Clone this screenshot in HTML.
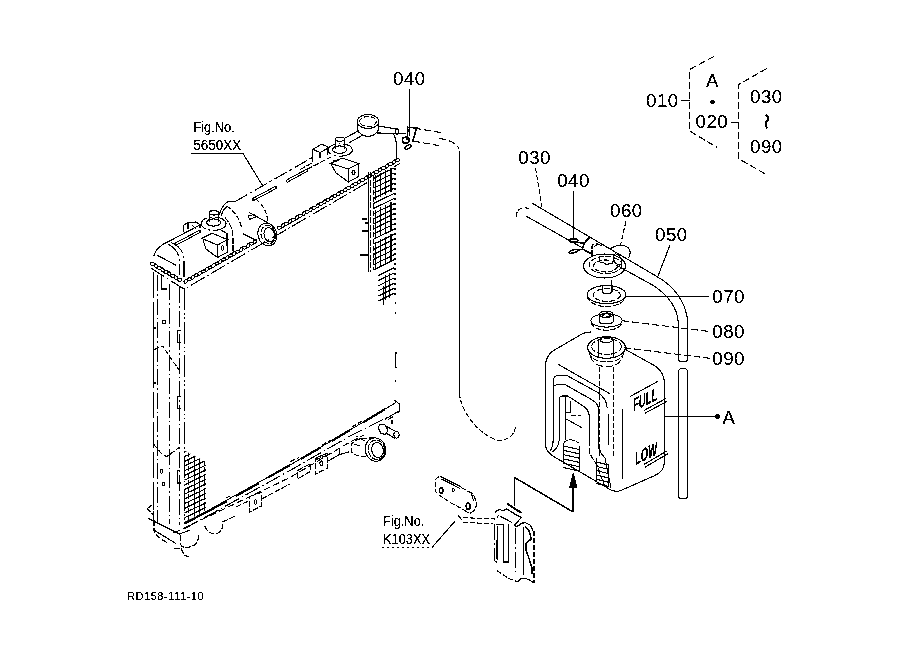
<!DOCTYPE html>
<html><head><meta charset="utf-8">
<style>
html,body{margin:0;padding:0;background:#fff;}
body{width:919px;height:667px;overflow:hidden;}
svg{display:block;filter:grayscale(1);}
text{font-family:"Liberation Sans",sans-serif;fill:#000;}
.l{font-size:18.6px;letter-spacing:0.55px;}
.s{font-size:15px;}
.d1{stroke-dasharray:7 3;}
.d2{stroke-dasharray:5 2;}
.d3{stroke-dasharray:2 3;}
.d4{stroke-dasharray:6 1.5;}
.d5{stroke-dasharray:5 2;}
.dd{stroke-dasharray:16 3 1.5 3;}
.ph{stroke-dasharray:22 3 1.5 2.5 1.5 3;}
.lg{stroke-dasharray:26 4;}
.d6{stroke-dasharray:14 3 3 3;}
</style></head><body>
<svg width="919" height="667" viewBox="0 0 919 667">
<defs><filter id="bin" color-interpolation-filters="sRGB"><feComponentTransfer><feFuncA type="discrete" tableValues="0 0 1 1 1"/></feComponentTransfer></filter><clipPath id="blm"><path d="M184.4 450.5L206 462V510L184.4 522.5Z"/></clipPath></defs>
<g fill="none" stroke="#000" stroke-width="1.1" shape-rendering="crispEdges">
<path d="M409.5 89.4V136" stroke-width="1"/>
<path d="M191 153.5H243L262.5 185.5"/>
<path d="M681 100.5H689.5M731.2 122.5H738.5" stroke-width="1"/>
<path d="M714 56.4L689.5 69.5V130.9L717 147.4" class="d1"/>
<path d="M766.7 68.5L738.5 84.7V158.7L766.7 174.7" class="d1"/>
<path d="M535.5 168.1L542.3 208.6" class="d2"/>
<path d="M573.5 190.6V239" stroke-width="1"/>
<path d="M626 221L620.4 245.7" class="d2"/>
<path d="M669.9 245.3L657.5 277.2"/>
<path d="M625.2 296.5H708.5" stroke-width="1"/>
<path d="M621.9 320.7L709.6 331.5" class="d1"/>
<path d="M624.1 347.7L709.6 358.3" class="d1"/>
<path d="M664.5 416.5H715.7" stroke-width="1"/>
<path d="M382.4 547.6H431.9" class="d3"/>
<path d="M431.9 547.6L455.5 520.6"/>
<path d="M765.5 114.8L767.6 116.6V120.2L765.8 122.4V126.2L767.4 128.4" stroke-width="1.8"/>
<path d="M153.7 272V523" class="lg"/>
<path d="M157.4 275V523" class="dd"/>
<path d="M169.7 284V524" class="dd"/>
<path d="M179.6 287V525" class="dd"/>
<path d="M184.5 288V523" class="ph"/>
<path d="M161.5 274V289H166.5"/>
<path d="M153.8 256.2C155 250 160 245 169.3 241.1L200 225"/>
<path d="M234.8 201.8L313 157.1" class="d6"/>
<path d="M168.4 244.5C174 247 178 252 179.1 258.1V275" class="dd"/>
<path d="M171.3 242.5C177 245 183 250 184 258.1V278" class="dd"/>
<path d="M157.2 255.2L176.2 265.4"/>
<path d="M175.5 244.2L199.5 231.5" stroke-width="3.2" stroke-linecap="round"/>
<path d="M175.5 244.2L199.5 231.5" stroke-width="1.2" stroke="#fff"/>
<path d="M253.5 199.3L275.5 187.6" stroke-width="3.2" stroke-linecap="round"/>
<path d="M253.5 199.3L275.5 187.6" stroke-width="1.2" stroke="#fff"/>
<path d="M287.2 181L306.9 170.2" stroke-width="3.2" stroke-linecap="round"/>
<path d="M287.2 181L306.9 170.2" stroke-width="1.2" stroke="#fff"/>
<ellipse cx="152.5" cy="264.0" rx="2.1" ry="1.5" transform="rotate(10.3 152.5 264.0)"/>
<ellipse cx="155.9" cy="266.0" rx="2.1" ry="1.5" transform="rotate(50.3 155.9 266.0)"/>
<ellipse cx="159.2" cy="267.9" rx="2.1" ry="1.5" transform="rotate(10.3 159.2 267.9)"/>
<ellipse cx="162.6" cy="269.9" rx="2.1" ry="1.5" transform="rotate(50.3 162.6 269.9)"/>
<ellipse cx="166.0" cy="271.9" rx="2.1" ry="1.5" transform="rotate(10.3 166.0 271.9)"/>
<ellipse cx="169.3" cy="273.8" rx="2.1" ry="1.5" transform="rotate(50.3 169.3 273.8)"/>
<ellipse cx="172.7" cy="275.8" rx="2.1" ry="1.5" transform="rotate(10.3 172.7 275.8)"/>
<ellipse cx="176.1" cy="277.8" rx="2.1" ry="1.5" transform="rotate(50.3 176.1 277.8)"/>
<ellipse cx="179.4" cy="279.7" rx="2.1" ry="1.5" transform="rotate(10.3 179.4 279.7)"/>
<ellipse cx="185.7" cy="281.4" rx="2.1" ry="1.5" transform="rotate(-49.8 185.7 281.4)"/>
<ellipse cx="189.2" cy="279.4" rx="2.1" ry="1.5" transform="rotate(-9.8 189.2 279.4)"/>
<ellipse cx="192.7" cy="277.4" rx="2.1" ry="1.5" transform="rotate(-49.8 192.7 277.4)"/>
<ellipse cx="196.1" cy="275.4" rx="2.1" ry="1.5" transform="rotate(-9.8 196.1 275.4)"/>
<ellipse cx="199.6" cy="273.4" rx="2.1" ry="1.5" transform="rotate(-49.8 199.6 273.4)"/>
<ellipse cx="203.1" cy="271.5" rx="2.1" ry="1.5" transform="rotate(-9.8 203.1 271.5)"/>
<ellipse cx="206.6" cy="269.5" rx="2.1" ry="1.5" transform="rotate(-49.8 206.6 269.5)"/>
<ellipse cx="210.0" cy="267.5" rx="2.1" ry="1.5" transform="rotate(-9.8 210.0 267.5)"/>
<ellipse cx="213.5" cy="265.5" rx="2.1" ry="1.5" transform="rotate(-49.8 213.5 265.5)"/>
<ellipse cx="217.0" cy="263.5" rx="2.1" ry="1.5" transform="rotate(-9.8 217.0 263.5)"/>
<ellipse cx="220.4" cy="261.5" rx="2.1" ry="1.5" transform="rotate(-49.8 220.4 261.5)"/>
<ellipse cx="223.9" cy="259.5" rx="2.1" ry="1.5" transform="rotate(-9.8 223.9 259.5)"/>
<ellipse cx="227.4" cy="257.5" rx="2.1" ry="1.5" transform="rotate(-49.8 227.4 257.5)"/>
<ellipse cx="230.8" cy="255.5" rx="2.1" ry="1.5" transform="rotate(-9.8 230.8 255.5)"/>
<ellipse cx="234.3" cy="253.5" rx="2.1" ry="1.5" transform="rotate(-49.8 234.3 253.5)"/>
<ellipse cx="237.8" cy="251.6" rx="2.1" ry="1.5" transform="rotate(-9.8 237.8 251.6)"/>
<ellipse cx="241.2" cy="249.6" rx="2.1" ry="1.5" transform="rotate(-49.8 241.2 249.6)"/>
<ellipse cx="244.7" cy="247.6" rx="2.1" ry="1.5" transform="rotate(-9.8 244.7 247.6)"/>
<ellipse cx="248.2" cy="245.6" rx="2.1" ry="1.5" transform="rotate(-49.8 248.2 245.6)"/>
<ellipse cx="251.7" cy="243.6" rx="2.1" ry="1.5" transform="rotate(-9.8 251.7 243.6)"/>
<ellipse cx="255.1" cy="241.6" rx="2.1" ry="1.5" transform="rotate(-49.8 255.1 241.6)"/>
<ellipse cx="279.4" cy="227.7" rx="2.1" ry="1.5" transform="rotate(-9.8 279.4 227.7)"/>
<ellipse cx="282.9" cy="225.7" rx="2.1" ry="1.5" transform="rotate(-49.8 282.9 225.7)"/>
<ellipse cx="286.4" cy="223.7" rx="2.1" ry="1.5" transform="rotate(-9.8 286.4 223.7)"/>
<ellipse cx="289.8" cy="221.7" rx="2.1" ry="1.5" transform="rotate(-49.8 289.8 221.7)"/>
<ellipse cx="293.3" cy="219.7" rx="2.1" ry="1.5" transform="rotate(-9.8 293.3 219.7)"/>
<ellipse cx="296.8" cy="217.7" rx="2.1" ry="1.5" transform="rotate(-49.8 296.8 217.7)"/>
<ellipse cx="300.2" cy="215.7" rx="2.1" ry="1.5" transform="rotate(-9.8 300.2 215.7)"/>
<ellipse cx="303.7" cy="213.7" rx="2.1" ry="1.5" transform="rotate(-49.8 303.7 213.7)"/>
<ellipse cx="307.2" cy="211.7" rx="2.1" ry="1.5" transform="rotate(-9.8 307.2 211.7)"/>
<ellipse cx="310.6" cy="209.8" rx="2.1" ry="1.5" transform="rotate(-49.8 310.6 209.8)"/>
<ellipse cx="314.1" cy="207.8" rx="2.1" ry="1.5" transform="rotate(-9.8 314.1 207.8)"/>
<ellipse cx="317.6" cy="205.8" rx="2.1" ry="1.5" transform="rotate(-49.8 317.6 205.8)"/>
<ellipse cx="321.1" cy="203.8" rx="2.1" ry="1.5" transform="rotate(-9.8 321.1 203.8)"/>
<ellipse cx="324.5" cy="201.8" rx="2.1" ry="1.5" transform="rotate(-49.8 324.5 201.8)"/>
<ellipse cx="328.0" cy="199.8" rx="2.1" ry="1.5" transform="rotate(-9.8 328.0 199.8)"/>
<ellipse cx="331.5" cy="197.8" rx="2.1" ry="1.5" transform="rotate(-49.8 331.5 197.8)"/>
<ellipse cx="334.9" cy="195.8" rx="2.1" ry="1.5" transform="rotate(-9.8 334.9 195.8)"/>
<ellipse cx="338.4" cy="193.8" rx="2.1" ry="1.5" transform="rotate(-49.8 338.4 193.8)"/>
<ellipse cx="341.9" cy="191.8" rx="2.1" ry="1.5" transform="rotate(-9.8 341.9 191.8)"/>
<ellipse cx="345.3" cy="189.9" rx="2.1" ry="1.5" transform="rotate(-49.8 345.3 189.9)"/>
<ellipse cx="348.8" cy="187.9" rx="2.1" ry="1.5" transform="rotate(-9.8 348.8 187.9)"/>
<ellipse cx="352.3" cy="185.9" rx="2.1" ry="1.5" transform="rotate(-49.8 352.3 185.9)"/>
<ellipse cx="355.7" cy="183.9" rx="2.1" ry="1.5" transform="rotate(-9.8 355.7 183.9)"/>
<ellipse cx="359.2" cy="181.9" rx="2.1" ry="1.5" transform="rotate(-49.8 359.2 181.9)"/>
<ellipse cx="362.7" cy="179.9" rx="2.1" ry="1.5" transform="rotate(-9.8 362.7 179.9)"/>
<ellipse cx="366.2" cy="177.9" rx="2.1" ry="1.5" transform="rotate(-49.8 366.2 177.9)"/>
<ellipse cx="369.6" cy="175.9" rx="2.1" ry="1.5" transform="rotate(-9.8 369.6 175.9)"/>
<ellipse cx="373.1" cy="173.9" rx="2.1" ry="1.5" transform="rotate(-49.8 373.1 173.9)"/>
<ellipse cx="376.6" cy="171.9" rx="2.1" ry="1.5" transform="rotate(-9.8 376.6 171.9)"/>
<ellipse cx="380.0" cy="169.9" rx="2.1" ry="1.5" transform="rotate(-49.8 380.0 169.9)"/>
<ellipse cx="383.5" cy="168.0" rx="2.1" ry="1.5" transform="rotate(-9.8 383.5 168.0)"/>
<ellipse cx="387.0" cy="166.0" rx="2.1" ry="1.5" transform="rotate(-49.8 387.0 166.0)"/>
<ellipse cx="390.4" cy="164.0" rx="2.1" ry="1.5" transform="rotate(-9.8 390.4 164.0)"/>
<ellipse cx="393.9" cy="162.0" rx="2.1" ry="1.5" transform="rotate(-49.8 393.9 162.0)"/>
<ellipse cx="397.4" cy="160.0" rx="2.1" ry="1.5" transform="rotate(-9.8 397.4 160.0)"/>
<path d="M150.8 268L181 287.3L184.5 289L400 163.4" class="dd"/>
<path d="M184.5 289L185 292"/>
<path d="M183.2 231.8V225.5L188 222.5L196 222L200 224.5V228"/>
<path d="M188 222.5V229M192 225L196 229"/>
<ellipse cx="213.6" cy="223.7" rx="12.4" ry="6.7" class="dd"/>
<ellipse cx="213.6" cy="222.5" rx="7" ry="3.6"/>
<path d="M209.6 222V213.2M218.6 222V213.2"/>
<ellipse cx="214.1" cy="212.8" rx="4.5" ry="2.2"/>
<path d="M211 212V209.6M216.6 212V209.6"/>
<path d="M201.7 238.4L217.5 245L227.6 239.6L212 233.2Z"/>
<path d="M217.5 245V257.5L227.6 252V239.6"/>
<path d="M203 240L206 249L217.5 257.5"/>
<ellipse cx="222.6" cy="248" rx="1.4" ry="2.2"/>
<path d="M219 229L227 233.5V246"/>
<path d="M218.9 215.4C221 209 224 204 227.7 201.8L234.5 201.8"/>
<path d="M220.8 216.4C222 212 224 209 226.7 206.7"/>
<path d="M226.7 206.2C233 210 240 218 241.8 229" class="d2"/>
<path d="M224.7 217.4C229 222 233 229 233 236V252.4" class="d4"/>
<path d="M255.9 198.9C262 204 267 211 268 222.3" class="d2"/>
<path d="M249.1 212.5L268.6 223.2M243.2 233.9L256.9 240.8"/>
<path d="M248 216L254 214.5L256 217L249.5 219.3Z"/>
<ellipse cx="267.3" cy="234.5" rx="9.4" ry="11.5" transform="rotate(-15 267.3 234.5)"/>
<ellipse cx="268.3" cy="234.5" rx="7.2" ry="9.2" class="d4" transform="rotate(-15 268.3 234.5)"/>
<ellipse cx="269.3" cy="234.8" rx="5.2" ry="7.2" transform="rotate(-15 269.3 234.8)"/>
<ellipse cx="340.2" cy="150" rx="12.1" ry="6.2" class="dd"/>
<ellipse cx="339.6" cy="149.6" rx="7" ry="3.7"/>
<path d="M335.4 148.5V139.5M344.4 148.5V139.5"/>
<ellipse cx="339.9" cy="139.2" rx="4.5" ry="2"/>
<path d="M330.4 163.4L348.4 169L358.5 163.5L342 158Z"/>
<path d="M348.4 169V182L358.5 176.5V163.5"/>
<path d="M331 164L336 173L348.4 182"/>
<path d="M333 161.5L339 160" stroke-width="2"/>
<ellipse cx="353.5" cy="172.5" rx="1.5" ry="2.4"/>
<path d="M312.9 161.7V149.4L321.4 144.3L327.6 146.6V155"/>
<path d="M312.9 149.4L320 152.5L327.6 148.5M320 152.5V158"/>
<path d="M300 169.6L312.9 162.5M300 173L330.4 157.2" class="d4"/>
<path d="M343.9 138.7L358.5 130.8M348.4 143.2L362.4 135.3"/>
<ellipse cx="368" cy="121.5" rx="10.7" ry="7"/>
<ellipse cx="368" cy="121.5" rx="8.4" ry="5" class="d2"/>
<path d="M357.4 121.5V129.5M378.7 121.5V129.5"/>
<path d="M357.4 129.5C359 134 364 136.4 368 136.4C372 136.4 377 134 378.7 129.5"/>
<path d="M378.5 125.9L398.6 129.5M377 133L405.8 133.5"/>
<ellipse cx="396.8" cy="131.5" rx="1.6" ry="3"/>
<path d="M406.7 127.2L416.6 128L412.6 142M408 128.5L407 140" stroke-width="1.6"/>
<ellipse cx="405.8" cy="140.2" rx="3.5" ry="3" stroke-width="1.6"/>
<ellipse cx="408" cy="147" rx="3.5" ry="1.6" transform="rotate(-35 408 147)" stroke-width="1.6"/>
<path d="M413.9 128.1L440.9 132.6" class="d1"/>
<path d="M413 141.1L439.1 145.6" class="d1"/>
<path d="M439.1 138.4C450 140 458 144 458.9 149.2" class="d1"/>
<path d="M459.4 151V392.8"/>
<path d="M459.4 392.8C460.5 410 477 434 497.6 440.2C506 441 515 436 515.6 425.8" class="d5"/>
<path d="M393 133C395.5 137 396.4 141 396.4 146V160"/>
<path d="M395 168V298" class="d3"/>
<path d="M395.3 302V303.5M395.3 312V313.5M395.3 380V381.5" stroke-width="1.3"/>
<path d="M397 353H395.3V367.5H397" stroke-width="1.3"/>
<path d="M373.5 178.0L394 168.0" stroke-width="1.2"/>
<path d="M373.5 183.1L394 173.1" stroke-width="1.2"/>
<path d="M373.5 188.2L394 178.2" stroke-width="1.2"/>
<path d="M373.5 193.3L394 183.3" stroke-width="1.2"/>
<path d="M373.5 198.4L394 188.4" stroke-width="1.2"/>
<path d="M373.5 203.5L394 193.5" stroke-width="1.2"/>
<path d="M373.5 208.6L394 198.6" stroke-width="1.2"/>
<path d="M373.5 213.7L394 203.7" stroke-width="1.2"/>
<path d="M373.5 218.8L394 208.8" stroke-width="1.2"/>
<path d="M373.5 223.9L394 213.9" stroke-width="1.2"/>
<path d="M373.5 229.0L394 219.0" stroke-width="1.2"/>
<path d="M373.5 234.1L394 224.1" stroke-width="1.2"/>
<path d="M373.5 239.2L394 229.2" stroke-width="1.2"/>
<path d="M373.5 244.3L394 234.3" stroke-width="1.2"/>
<path d="M373.5 249.4L394 239.4" stroke-width="1.2"/>
<path d="M373.5 254.5L394 244.5" stroke-width="1.2"/>
<path d="M373.5 259.6L394 249.6" stroke-width="1.2"/>
<path d="M373.5 264.7L394 254.7" stroke-width="1.2"/>
<path d="M373.5 269.8L394 259.8" stroke-width="1.2"/>
<path d="M378.5 275.5L394 267.9" stroke-width="1.2"/>
<path d="M378.5 280.6L394 273.0" stroke-width="1.2"/>
<path d="M378.5 285.7L394 278.1" stroke-width="1.2"/>
<path d="M378.5 290.8L394 283.2" stroke-width="1.2"/>
<path d="M378.5 295.9L394 288.3" stroke-width="1.2"/>
<path d="M378.5 301.0L394 293.4" stroke-width="1.2"/>
<path d="M375.8 175.4V199.9"/>
<path d="M380.8 172.9V197.4"/>
<path d="M385.9 170.4V194.9"/>
<path d="M391 167.9V192.4"/>
<path d="M375.8 209.9V238.9"/>
<path d="M380.8 207.4V236.4"/>
<path d="M385.9 204.9V233.9"/>
<path d="M391 202.4V231.4"/>
<path d="M375.8 241.9V269.9"/>
<path d="M380.8 239.4V267.4"/>
<path d="M385.9 236.9V264.9"/>
<path d="M391 234.4V262.4"/>
<path d="M385.6 275.1V300.1"/>
<path d="M389.8 273.0V298.0"/>
<path d="M383.2 286V305"/>
<path d="M368.3 172V272"/>
<path d="M370.4 172V272" class="d4"/>
<path d="M373.5 176V270" class="d2"/>
<path d="M362.3 219H366.5M365 223H368M362 231H368M360 255H368"/>
<g clip-path="url(#blm)">
<path d="M184.4 452.0L206 441.6" stroke-width="1.2"/>
<path d="M184.4 456.7L206 446.3" stroke-width="1.2"/>
<path d="M184.4 461.4L206 451.0" stroke-width="1.2"/>
<path d="M184.4 466.1L206 455.7" stroke-width="1.2"/>
<path d="M184.4 470.8L206 460.4" stroke-width="1.2"/>
<path d="M184.4 475.5L206 465.1" stroke-width="1.2"/>
<path d="M184.4 480.2L206 469.8" stroke-width="1.2"/>
<path d="M184.4 484.9L206 474.5" stroke-width="1.2"/>
<path d="M184.4 489.6L206 479.2" stroke-width="1.2"/>
<path d="M184.4 494.3L206 483.9" stroke-width="1.2"/>
<path d="M184.4 499.0L206 488.6" stroke-width="1.2"/>
<path d="M184.4 503.7L206 493.3" stroke-width="1.2"/>
<path d="M184.4 508.4L206 498.0" stroke-width="1.2"/>
<path d="M184.4 513.1L206 502.7" stroke-width="1.2"/>
<path d="M184.4 517.8L206 507.4" stroke-width="1.2"/>
<path d="M184.4 522.5L206 512.1" stroke-width="1.2"/>
<path d="M184.4 527.2L206 516.8" stroke-width="1.2"/>
<path d="M194.5 455V520"/>
<path d="M199.3 455V520"/>
<path d="M188.5 452V524" class="d2"/>
<path d="M204.3 460V515" class="d2"/>
</g>
<path d="M184.4 523.6L290 465L350 430L396 402.5" stroke-width="1"/>
<path d="M184.4 523.6L227 501.2M236 496L258.5 483.4M267.5 477.8L290 465M300.4 459.2L320.4 447.6M332 440.8L350 430M364 421.8L385 409.2" stroke-width="2.2"/>
<path d="M226 498L231 495.5M290.5 461.5L299 457.5M322 445L331 440M352 427L362 421" class="d2"/>
<path d="M184 529L290 470.5L350 436L399.5 411.4" class="dd"/>
<path d="M173.6 533L290 477.5L350 442L364 435" class="d1"/>
<path d="M297.8 470.4L310.4 463.6V471.4L297.8 478.8Z" class="d4"/>
<path d="M315.1 459.9L327.5 455.2V468.3L315.1 474.1Z" class="d4"/>
<path d="M315.1 459.9L317 457.5L327.5 453.2V455.2"/>
<ellipse cx="321.4" cy="463.2" rx="1.5" ry="2.2"/>
<path d="M328.3 461L339.3 454.6V448.3M339.3 454.6L348.7 452"/>
<path d="M249.5 496.5L261.5 492.5V506L249.5 512Z" class="d4"/>
<ellipse cx="255.5" cy="502" rx="1.4" ry="2.2"/>
<path d="M236 507L249.5 500.5M261.5 499L290 484" class="d4"/>
<path d="M222.7 522L236 515.5" class="d4"/>
<ellipse cx="375.5" cy="449.6" rx="10.2" ry="11.8" transform="rotate(-12 375.5 449.6)"/>
<ellipse cx="376.5" cy="449.8" rx="8.2" ry="9.8" class="d4" transform="rotate(-12 376.5 449.8)"/>
<ellipse cx="377.5" cy="450" rx="5.8" ry="7.6" transform="rotate(-12 377.5 450)"/>
<path d="M373.7 437.7L362 438.5C356 439.5 352 442 351.2 445V451.2C352 453 354 454.5 356 455L366 457" class="d2"/>
<path d="M365 441L356 436M360 446L351 443" class="d4"/>
<path d="M380 424L378.2 428L381 433.5L385.5 434.5L388 430L385 425Z"/>
<path d="M385.5 426L397 432M386 433L395 438.5"/>
<ellipse cx="396.5" cy="434.8" rx="2.6" ry="3.3"/>
<path d="M388 419.5L392 417V424" class="d4"/>
<path d="M393.9 400L399.6 404V410.7L385 419.2"/>
<path d="M147.2 508.8L153.2 504V514.8Z" class="d4"/>
<path d="M148.4 518.4L179.6 534L190 530"/>
<path d="M154.4 530.4L176 543.5"/>
<path d="M154 520V531C156 536 162 540 168 543" class="d4"/>
<path d="M180.8 535.2V545C182 548 190 549 196.4 543.5C198 540 199 537 199 534" class="d4"/>
<path d="M173.6 548.3H181C183 552 183 556 189 556.7" class="d4"/>
<path d="M204.7 525.6C206 531 211 535 218 533.2C222 530 224 527 222 522" class="d4"/>
<ellipse cx="164" cy="322" rx="1.5" ry="1.9"/>
<path d="M180.5 330.4H177.4V342.4H180.5M180.5 396.3H177.4V408.3H180.5" stroke-width="1.2"/>
<path d="M155.5 328H153.7V383H155.5" stroke-width="1.2"/>
<path d="M154.4 349.5L162.8 346L179.6 371.1" class="d2"/>
<ellipse cx="161.5" cy="471.4" rx="1.4" ry="1.9"/>
<ellipse cx="163.6" cy="484" rx="1.4" ry="1.9"/>
<path d="M180 470.3H177.6V483H180.5" stroke-width="1.3"/>
<path d="M153.5 444L161.5 453.6L166.7 456.7L179.3 447.3" class="d4"/>
<path d="M532.4 203.3L656.7 276.4C672 285 686 300 687.8 322V359"/>
<path d="M526.1 216.1L583.4 248.4"/>
<path d="M516.3 217C516 211 520 207.5 524.6 207.7C527 207.7 529.5 209 531 210.7" class="d2"/>
<ellipse cx="573.6" cy="240.2" rx="4.4" ry="1.3" stroke-width="1.5"/>
<path d="M569.6 242L584.3 243L590.2 236.6" stroke-width="1.6"/>
<path d="M584.3 243L582.4 248.9L591.2 253.8" stroke-width="1.6"/>
<ellipse cx="573.6" cy="251.3" rx="4.6" ry="1.5" transform="rotate(-15 573.6 251.3)" stroke-width="1.6"/>
<path d="M578 250.5L582.4 248.9"/>
<ellipse cx="604.5" cy="266" rx="21" ry="12"/>
<ellipse cx="605.5" cy="265" rx="16.5" ry="8.5" class="d4"/>
<ellipse cx="605.5" cy="266" rx="12" ry="6" class="d2"/>
<path d="M609.6 248.9C613 247 617 245.3 620.4 245.3C625 245.3 629 247 630 251C630.5 254 629.5 256 628.5 257.9"/>
<path d="M592 256V246C593 243 597 243 600 245" class="d4"/>
<path d="M594 247C596 244 599 244 602 246"/>
<path d="M599 256L600 262L604 263L607 265L610 263L612 264L614 260"/>
<path d="M611.4 279.5V290"/>
<path d="M602.4 285V292C603.5 294.5 610 294.5 612 292V285"/>
<path d="M616.2 265L654 285.9C666 294 677 305 678.2 322V359"/>
<ellipse cx="617.5" cy="259.5" rx="3.5" ry="6" transform="rotate(-30 617.5 259.5)"/>
<path d="M678.2 359C678.5 363 687.5 363 687.8 359"/>
<path d="M678.2 372V496C678.5 500 687.5 500 687.8 496V372"/>
<path d="M678.2 372C678.5 367 687.5 367 687.8 372"/>
<ellipse cx="606.5" cy="294.6" rx="19.4" ry="9"/>
<path d="M587.1 296C588 302 596 306.5 606.5 306.5C617 306.5 625 302 626 296" class="d4"/>
<ellipse cx="606.9" cy="295" rx="13.4" ry="6.4" class="d4"/>
<ellipse cx="606.5" cy="320.5" rx="15.6" ry="6.7"/>
<path d="M590.9 322C592 327 598 330.2 606.5 330.2C615 330.2 621 327 622.2 322" class="d4"/>
<ellipse cx="606.2" cy="314.3" rx="7" ry="3.2"/>
<ellipse cx="606.2" cy="314.6" rx="4.2" ry="1.7" class="d2"/>
<path d="M599.2 314.3V322M613.2 314.3V322"/>
<path d="M599.2 322C601 324.5 611 324.5 613.2 322"/>
<ellipse cx="606.5" cy="347.5" rx="18.8" ry="10.8"/>
<ellipse cx="606.5" cy="346.5" rx="15" ry="8" class="d4"/>
<ellipse cx="606.2" cy="339.8" rx="6.2" ry="2.6"/>
<path d="M598.6 340V357M613.9 340V357"/>
<path d="M589 352C590 359 597 361.5 606.5 361.5C616 361.5 623 359 624 352" class="d4"/>
<path d="M590.5 356C592 363 598 366.6 606.5 366.6C615 366.6 621 363 622.5 356" class="d1"/>
<path d="M545.5 444V366C545.5 358 549 352 558.6 347.6L583 333.4C585 332.5 588 332 591 332"/>
<path d="M624.8 349.1L654.7 365.7C661 370 664 375 664.5 382V460"/>
<path d="M664.5 460C664.5 470 660 473 654.7 475.6L622 490C619 491.5 614 491.5 610.6 489.8L554 456.7C548.5 453 545.5 450 545.5 444"/>
<path d="M545.5 444V366"/>
<path d="M558 364.2L609.6 393.6"/>
<path d="M553.2 440V381.6C553.5 377 555 375.6 558 375.6H567L597.6 392.4C603 396 607 402 607.2 408"/>
<path d="M553.2 387.6C554 385 557 384.6 559.2 384.6H565.2L591.6 399.6C596 402 598.8 406 598.8 410.4V440"/>
<path d="M559.2 440V398.4C559.5 396.5 561 396 562.8 396H567.6L580.8 404.4C585 407 589 411 589.2 415.2V440"/>
<path d="M565.2 397.2V440"/>
<path d="M565.8 412.8H570.6V400.8"/>
<path d="M570.6 415.2H580.8" class="d2"/>
<path d="M565.8 418.8L582 427.8"/>
<path d="M553.2 440C553 446 552 449 549.5 451.5M559.2 440C558.5 446 556 450 552 452"/>
<path d="M589.2 440V450C590 456 594 460 597 465L605 487" class="d4"/>
<path d="M598.8 440V448C600 452 602 455 605 458L611 488"/>
<path d="M599.3 367.2V456M613.7 367.2V456" class="d2"/>
<path d="M608.4 414V445M622.4 409.4V478.7"/>
<path d="M563.3 446.0L579.1 449.5"/>
<path d="M563.3 450.3L579.1 453.8"/>
<path d="M563.3 454.6L579.1 458.1"/>
<path d="M563.3 458.9L579.1 462.4"/>
<path d="M563.3 463.2L579.1 466.7"/>
<path d="M563.3 467.5L579.1 471.0"/>
<path d="M563.3 444V462M579.1 446V471"/>
<path d="M563.3 444C565 440 570 438.5 575 441L579.1 443" class="d4"/>
<path d="M596.4 462.0L608.2 465.0"/>
<path d="M596.4 466.3L608.2 469.3"/>
<path d="M596.4 470.6L608.2 473.6"/>
<path d="M596.4 474.9L608.2 477.9"/>
<path d="M596.4 479.2L608.2 482.2"/>
<path d="M596.4 483.5L608.2 486.5"/>
<path d="M596.4 458.3V481M608.2 464V487.4"/>
<path d="M630.3 396.4L657.8 381.4"/>
<path d="M643.7 410.6L665.7 398.7M645 413.2L667 401.3"/>
<path d="M643.7 464.6L666.5 451.2M645 467.2L667.8 453.8"/>
<path d="M514.4 477.4L572.7 511.7" stroke-width="1.5"/>
<path d="M573.2 511.7V486" stroke-width="2.2"/>
<path d="M573.3 473.1L569.7 487.5H576.9Z" fill="#000"/>
<path d="M440.5 476.5L460.8 486.5M441.5 479L460 488.5" stroke-width="1.2"/>
<path d="M460.8 487.3L470.9 492.7C474 495 475.6 498 476.3 504.1C476.3 508 474 511.5 470.9 512.9C468.5 513.5 467 512.5 466.8 511.6" class="d4"/>
<path d="M466.8 511.6L456 505.5L450.6 502.8L438.5 494.7C436 492.5 435.1 490.5 435.1 489.3V481.2C435.5 478.5 438 476.5 440.5 476.5" class="d2"/>
<path d="M471.6 494L473.6 501.4"/>
<ellipse cx="441.2" cy="490.6" rx="1.8" ry="2.8" stroke-width="1.5"/>
<ellipse cx="453.3" cy="490" rx="1.3" ry="1.3"/>
<ellipse cx="468.2" cy="506.2" rx="2" ry="3.2" stroke-width="1.5"/>
<path d="M462.8 517.6L495.2 519M462.8 522.4L492.5 523.7" class="d2"/>
<path d="M458 515L462 520"/>
<path d="M514.4 477.4V505.8" stroke-width="1.5"/>
<path d="M507.2 503.7L521.6 513" stroke-width="2"/>
<path d="M506.3 508.8L517.7 515.7L521.3 517.5L516.2 523.2L514.4 525.6L516.8 526.8L521.6 523.2L525.2 522.6L530 525L533 530.4" stroke-width="1.3"/>
<path d="M495.2 512.5C496 510.5 498 509.7 500 509.7L503.6 510.9L506.3 508.8"/>
<path d="M496.7 518.4L498.8 514.8M500 516L512 522.6" stroke-width="1.2"/>
<path d="M494.1 524V559.7C495 561 496 562 497 562.4" class="dd"/>
<path d="M496.9 540V559" stroke-width="1.4"/>
<path d="M496.4 524.4H503.3V562H508.7V524.4"/>
<path d="M497.3 526V560" class="dd"/>
<path d="M508.4 526V562"/>
<path d="M515.4 528V574" class="dd"/>
<path d="M523.4 526.5V575"/>
<path d="M525.2 526.8C528 528 530 531 531.2 539L525.8 543.5V549.8L528.5 557L532 567.8V574" stroke-width="1.5"/>
<path d="M534 531V582.2" class="d2"/>
<path d="M497 570.5L508.7 578.6L517.7 581.7" class="d2"/>
<path d="M517.7 581.7L520.4 579L524 578L528.5 579.5L533 582.2H534.8"/>
</g>
<g filter="url(#bin)">
<circle cx="712.6" cy="102" r="2.2"/>
<circle cx="717.4" cy="416.4" r="2.4"/>
<g class="l">
<text x="393" y="84.7">040</text>
<text x="646" y="106.5">010</text>
<text x="706" y="86.6">A</text>
<text x="695.5" y="128">020</text>
<text x="750" y="102.6">030</text>
<text x="750" y="153.3">090</text>
<text x="518.3" y="164.3">030</text>
<text x="557.2" y="186.6">040</text>
<text x="610" y="216.5">060</text>
<text x="655" y="241.2">050</text>
<text x="712.3" y="302.7">070</text>
<text x="712.3" y="337.6">080</text>
<text x="712.3" y="365.1">090</text>
<text x="722.5" y="424">A</text>
</g>
<g class="s">
<text transform="translate(193.3 132.2) scale(0.86 1)">Fig.No.</text>
<text transform="translate(193.3 149.8) scale(0.9 1)">5650XX</text>
<text transform="translate(382.9 526.4) scale(0.86 1)">Fig.No.</text>
<text transform="translate(382.9 543.8) scale(0.86 1)">K103XX</text>
</g>
<text transform="translate(633 411.5) skewY(-26) skewX(-2) scale(0.52 1)" style="font-size:18px;font-weight:bold">FULL</text>
<text transform="translate(635 465.5) skewY(-26) skewX(-2) scale(0.52 1)" style="font-size:18px;font-weight:bold">LOW</text>
<text x="127" y="599.8" style="font-size:11px;letter-spacing:0.55px;">RD158-111-10</text>
</g>
</svg>
</body></html>
